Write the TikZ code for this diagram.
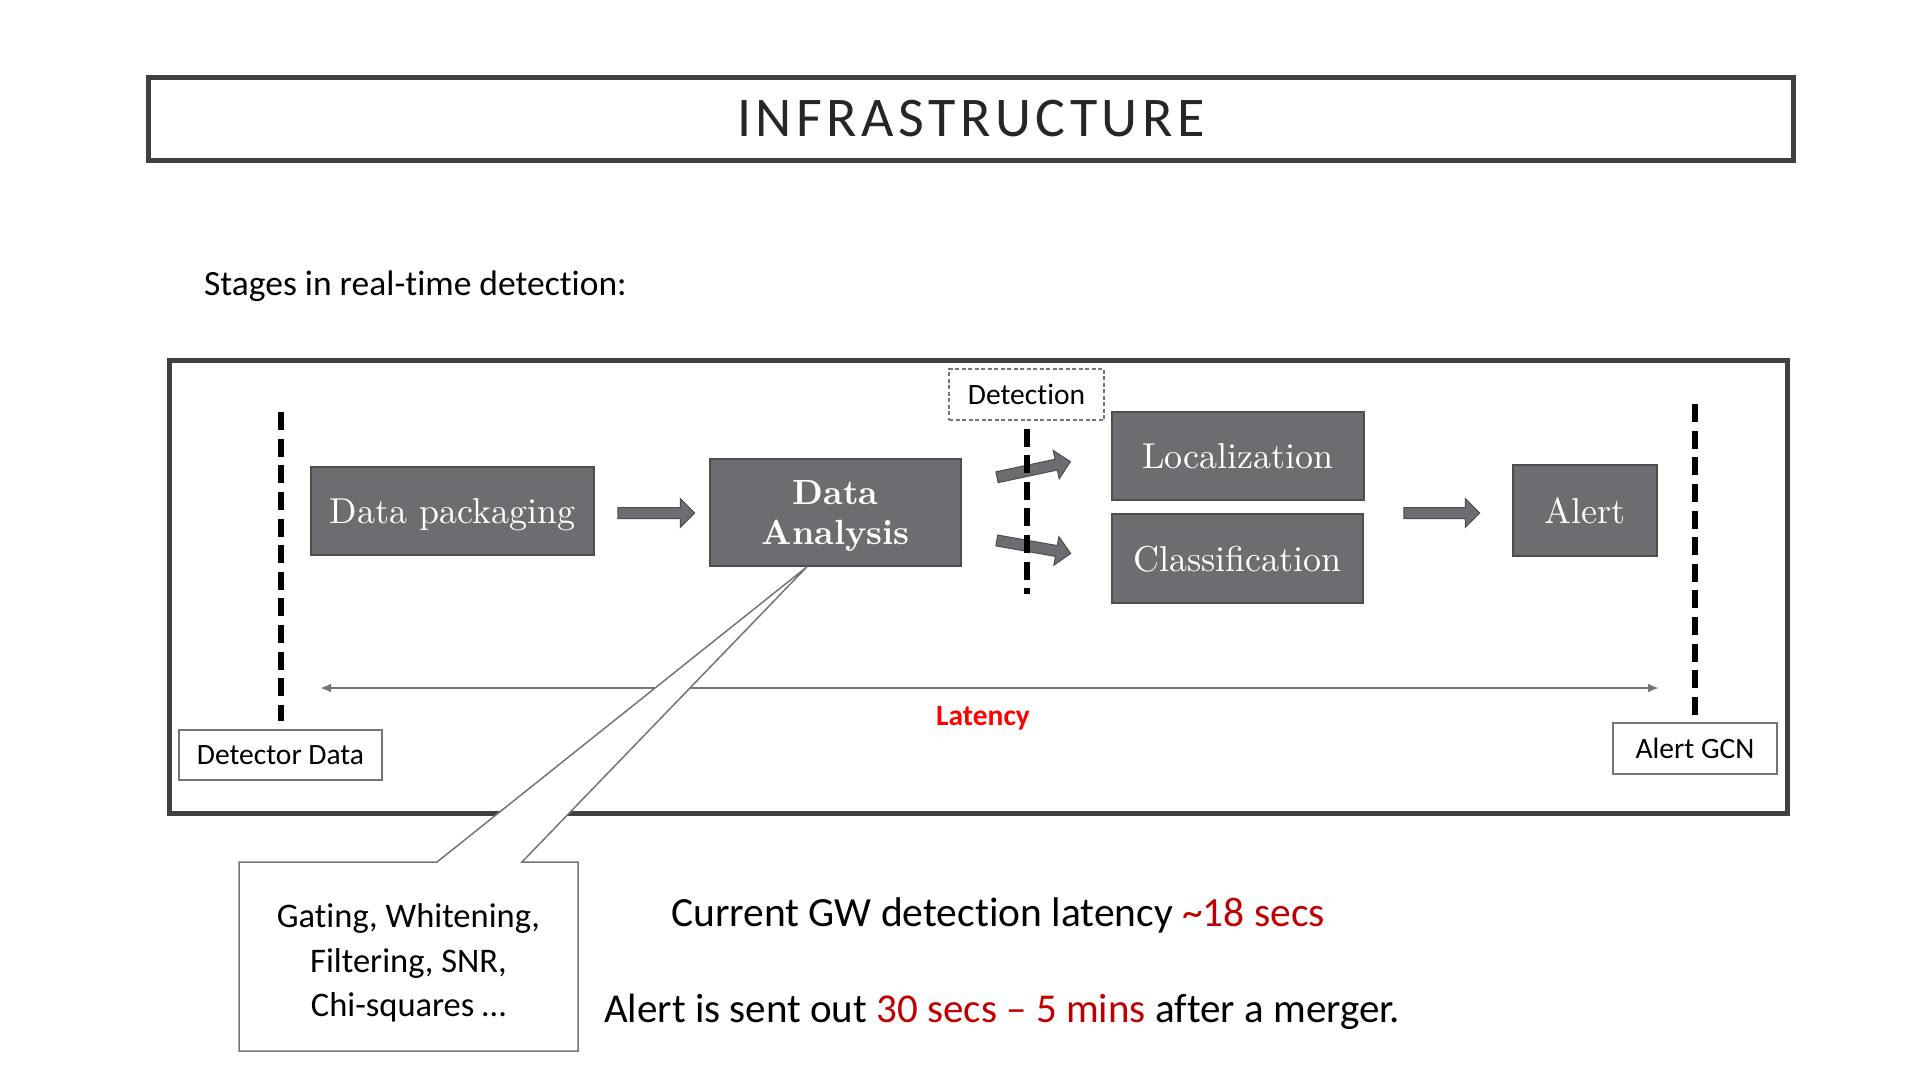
\documentclass[tikz,border=0pt]{standalone}
\usepackage{fontspec}
\setmainfont{Carlito}[Ligatures=NoCommon]
\newfontfamily\boxfont{lmroman10-regular.otf}[BoldFont=lmroman10-bold.otf]
\newfontfamily\titlefont{Carlito}[LetterSpace=8]
\usetikzlibrary{shapes.arrows,arrows.meta}
\definecolor{boxgray}{HTML}{6D6C71}
\definecolor{boxline}{HTML}{4D4D50}
\definecolor{framegray}{HTML}{404040}
\definecolor{thingray}{HTML}{757575}
\definecolor{darkred}{HTML}{C00000}
\tikzset{
  stage/.style={draw=boxline, line width=1.5pt, fill=boxgray, text=white,
    font=\boxfont\fontsize{36}{40}\selectfont, inner sep=0pt,
    text height=25pt, text depth=0pt},
  label box/.style={draw=thingray, line width=1.5pt, fill=white,
    font=\fontsize{29.5}{32}\selectfont, inner sep=0pt},
  fat arrow/.style={single arrow, draw=boxline, line width=1pt, fill=boxgray,
    inner xsep=0pt, inner ysep=5pt, single arrow head extend=9pt,
    single arrow head indent=0pt},
  timeline/.style={black, line width=6pt, dash pattern=on 18pt off 8.6pt},
  slide text/.style={anchor=base west, inner sep=0pt},
}
\begin{document}
\begin{tikzpicture}[x=1pt,y=-1pt]
  \useasboundingbox (0,0) rectangle (1920,1080);
  % heading
  \node[draw=framegray, line width=5pt, minimum width=1645pt, minimum height=83pt,
    inner sep=0pt, text=black!85, font=\titlefont\fontsize{56}{60}\selectfont]
    (title) at (971,119) {INFRASTRUCTURE};
  \node[slide text, font=\fontsize{35.5}{40}\selectfont] (stages) at (204,295)
    {Stages in real-time detection:};
  % frame
  \draw[framegray, line width=5pt] (169,360) rectangle (1787,813);
  % stages
  \node[stage, minimum width=283pt, minimum height=88pt] (pack) at (452.5,511) {Data packaging};
  \node[stage, minimum width=251pt, minimum height=107pt, align=center,
    text height=, font=\boxfont\bfseries\fontsize{35}{40}\selectfont]
    (ana) at (835.5,512.5) {Data\\Analysis};
  \node[stage, minimum width=252pt, minimum height=88pt] (loc) at (1238,456) {Localization};
  \node[stage, minimum width=251pt, minimum height=89pt] (cls) at (1237.5,558.5) {Classification};
  \node[stage, minimum width=144pt, minimum height=91pt] (alert) at (1585,510.5) {Alert};
  % arrows between stages
  \node[fat arrow, minimum height=77pt] (a1) at (653.5,513) {};
  \node[fat arrow, minimum height=75pt, rotate=12] (a2) at (1031,470) {};
  \node[fat arrow, minimum height=75pt, rotate=-10] (a3) at (1031,546.5) {};
  \node[fat arrow, minimum height=76pt] (a4) at (1439,513) {};
  % markers
  \node[label box, dash pattern=on 4pt off 2.5pt, line width=1.2pt,
    minimum width=155pt, minimum height=51pt] (det) at (1026.5,394.5) {Detection};
  \node[label box, minimum width=203pt, minimum height=50pt] (src) at (280.5,755) {Detector Data};
  \node[label box, minimum width=164pt, minimum height=51pt] (gcn) at (1695,748.5) {Alert GCN};
  \draw[timeline] ([yshift=-8pt]det.south) -- ++(0,165);
  \draw[timeline] ([yshift=8pt]src.north) ++(0,-309) -- ++(0,309);
  \draw[timeline] ([yshift=6pt]gcn.north) ++(0,-312) -- ++(0,312);
  % latency
  \coordinate (lat0) at (320,688);
  \coordinate (lat1) at (1659,688);
  \draw[thingray, line width=2.5pt, {Latex[length=11pt,width=9pt]}-{Latex[length=11pt,width=9pt]}]
    (lat0) -- (lat1);
  \node[anchor=base, inner sep=0pt, text=red, font=\bfseries\fontsize{29.5}{32}\selectfont]
    (lat) at (983,725) {Latency};
  % callout
  \coordinate (nw) at (239,862);
  \coordinate (se) at (578,1051);
  \filldraw[fill=white, draw=thingray, line width=1.5pt]
    (nw) -- ([xshift=198pt]nw) -- ([xshift=-28.5pt]ana.south) -- ([xshift=283pt]nw)
    -- (se |- nw) -- (se) -- (nw |- se) -- cycle;
  \node[align=center, inner sep=0pt, font=\fontsize{34.5}{44.5}\selectfont] (note) at (408.5,963)
    {Gating, Whitening,\\Filtering, SNR,\\Chi-squares \dots};
  % summary
  \node[slide text, font=\fontsize{41.5}{44}\selectfont] (now) at (671,926)
    {Current GW detection latency \textcolor{darkred}{\textasciitilde18 secs}};
  \node[slide text, font=\fontsize{41}{44}\selectfont] (sent) at (604,1022)
    {Alert is sent out \textcolor{darkred}{30 secs -- 5 mins} after a merger.};
\end{tikzpicture}
\end{document}
